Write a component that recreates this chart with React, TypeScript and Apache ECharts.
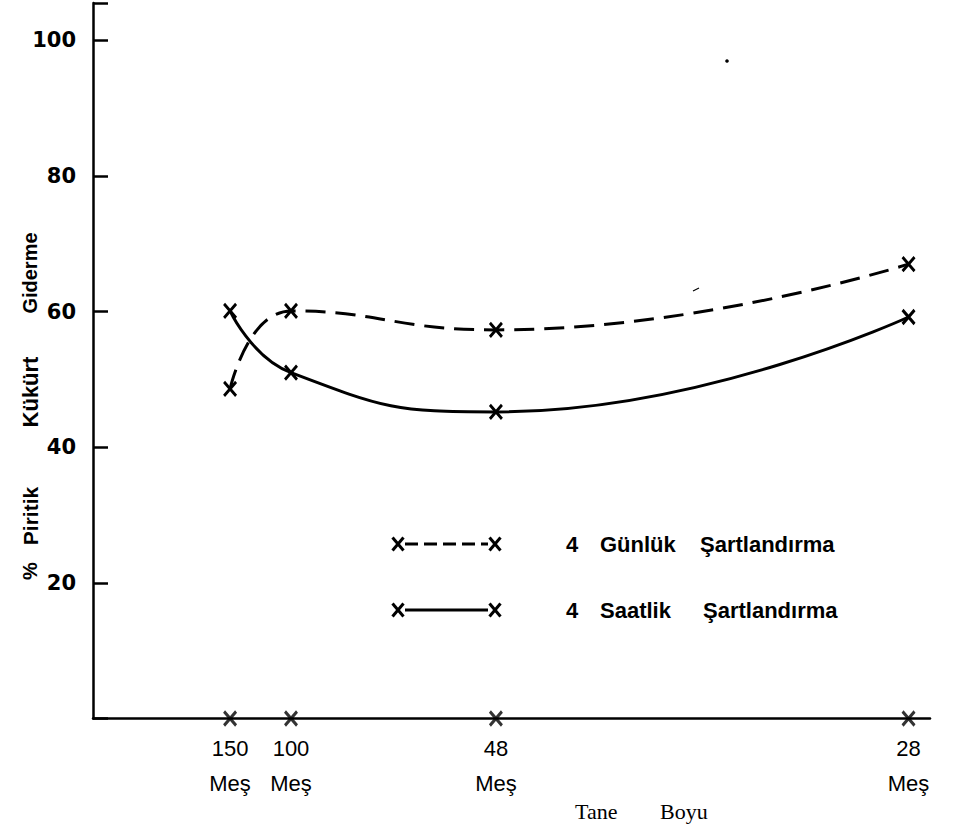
import React, { useEffect, useRef } from "react";
import * as echarts from "echarts";

// Data
const meshLabels = ["150", "100", "48", "28"];
const particleSizeMicron = [105, 149, 297, 595]; // mesh opening, x position
const gunlukValues = [48.6, 60.1, 57.3, 67.0]; // 4 Günlük Şartlandırma (dashed)
const saatlikValues = [60.1, 51.0, 45.2, 59.2]; // 4 Saatlik Şartlandırma (solid)
const yTicks = [20, 40, 60, 80, 100];

const X_SYMBOL = "path://M0,0L10,12M10,0L0,12";

function xMark(cx: number, cy: number) {
  const w = 5.5, h = 6.5;
  return {
    type: "group",
    children: [
      { type: "line", shape: { x1: cx - w, y1: cy - h, x2: cx + w, y2: cy + h }, style: { stroke: "#000", lineWidth: 3 } },
      { type: "line", shape: { x1: cx + w, y1: cy - h, x2: cx - w, y2: cy + h }, style: { stroke: "#000", lineWidth: 3 } },
    ],
  };
}

export default function App() {
  const ref = useRef<HTMLDivElement>(null);
  useEffect(() => {
    if (!ref.current) return;
    const chart = echarts.init(ref.current, null, { renderer: "svg" });
    const legendFont = { fontFamily: "Liberation Sans", fontSize: 22, fontWeight: "bold", fill: "#000" };
    const yWords = [
      { t: "%", y: 571, s: 20 },
      { t: "Piritik", y: 516, s: 21 },
      { t: "Kükürt", y: 392, s: 22 },
      { t: "Giderme", y: 273, s: 20 },
    ];
    chart.setOption({
      animation: false,
      backgroundColor: "#fff",
      grid: { left: 93, right: 28, top: 3, bottom: 112.5, containLabel: false },
      xAxis: {
        type: "value",
        min: 6,
        max: 610.5,
        axisLine: { show: true, lineStyle: { color: "#000", width: 2.5 } },
        axisTick: { show: false },
        splitLine: { show: false },
        axisLabel: {
          customValues: particleSizeMicron,
          formatter: (v: number) => {
            const i = particleSizeMicron.indexOf(v);
            return i >= 0 ? meshLabels[i] + "\nMeş" : "";
          },
          fontFamily: "Liberation Sans",
          fontSize: 22,
          lineHeight: 35,
          color: "#000",
          margin: 12,
        },
      },
      yAxis: {
        type: "value",
        min: 0,
        max: 105.5,
        interval: 20,
        axisLine: { show: true, lineStyle: { color: "#000", width: 2.5 } },
        axisTick: { show: true, inside: true, length: 15, lineStyle: { color: "#000", width: 2.5 } },
        splitLine: { show: false },
        axisLabel: {
          formatter: (v: number) => (yTicks.includes(v) ? String(v) : ""),
          fontFamily: "DejaVu Sans",
          fontSize: 21,
          fontWeight: "bold",
          color: "#000",
          margin: 17,
        },
      },
      series: [
        {
          name: "4 Günlük Şartlandırma",
          type: "line",
          smooth: 0.5,
          data: particleSizeMicron.map((x, i) => [x, gunlukValues[i]]),
          symbol: X_SYMBOL,
          symbolSize: [12, 14],
          showAllSymbol: true,
          lineStyle: { color: "#000", width: 3, type: [20, 10] },
          itemStyle: { color: "#000", borderColor: "#000", borderWidth: 3 },
          z: 3,
        },
        {
          name: "4 Saatlik Şartlandırma",
          type: "line",
          smooth: 0.5,
          data: particleSizeMicron.map((x, i) => [x, saatlikValues[i]]),
          symbol: X_SYMBOL,
          symbolSize: [12, 14],
          showAllSymbol: true,
          lineStyle: { color: "#000", width: 3, type: "solid" },
          itemStyle: { color: "#000", borderColor: "#000", borderWidth: 3 },
          z: 3,
        },
        {
          name: "axisMarks",
          type: "scatter",
          data: particleSizeMicron.map((x) => [x, 0]),
          symbol: X_SYMBOL,
          symbolSize: [12, 14],
          itemStyle: { color: "#000", borderColor: "#000", borderWidth: 3 },
          z: 5,
        },
      ],
      graphic: [
        ...yWords.map((w) => ({
          type: "text",
          x: 30,
          y: w.y,
          rotation: Math.PI / 2,
          style: { text: w.t, fontFamily: "Liberation Sans", fontSize: w.s, fontWeight: "bold", fill: "#000", align: "center", verticalAlign: "middle" },
        })),
        // legend row 1 (dashed)
        xMark(398, 544),
        xMark(495, 544),
        { type: "line", shape: { x1: 405, y1: 544, x2: 488, y2: 544 }, style: { stroke: "#000", lineWidth: 3, lineDash: [13, 6] } },
        { type: "text", x: 566, y: 544, style: { text: "4", ...legendFont, verticalAlign: "middle" } },
        { type: "text", x: 600, y: 544, style: { text: "Günlük", ...legendFont, verticalAlign: "middle" } },
        { type: "text", x: 700, y: 544, style: { text: "Şartlandırma", ...legendFont, verticalAlign: "middle" } },
        // legend row 2 (solid)
        xMark(398, 610),
        xMark(495, 610),
        { type: "line", shape: { x1: 405, y1: 610, x2: 488, y2: 610 }, style: { stroke: "#000", lineWidth: 3 } },
        { type: "text", x: 566, y: 610, style: { text: "4", ...legendFont, verticalAlign: "middle" } },
        { type: "text", x: 600, y: 610, style: { text: "Saatlik", ...legendFont, verticalAlign: "middle" } },
        { type: "text", x: 703, y: 610, style: { text: "Şartlandırma", ...legendFont, verticalAlign: "middle" } },
        // x axis title
        { type: "text", x: 575, y: 811, style: { text: "Tane", fontFamily: "Liberation Serif", fontSize: 22, fill: "#000", verticalAlign: "middle" } },
        { type: "text", x: 660, y: 811, style: { text: "Boyu", fontFamily: "Liberation Serif", fontSize: 22, fill: "#000", verticalAlign: "middle" } },
        // scan specks
        { type: "circle", shape: { cx: 727, cy: 61, r: 1.8 }, style: { fill: "#000" } },
        { type: "line", shape: { x1: 693, y1: 291, x2: 699, y2: 288 }, style: { stroke: "#000", lineWidth: 1.2 } },
      ],
    });
    return () => chart.dispose();
  }, []);
  return <div ref={ref} style={{ position: "absolute", left: 0, top: 0, width: 958, height: 831 }} />;
}
